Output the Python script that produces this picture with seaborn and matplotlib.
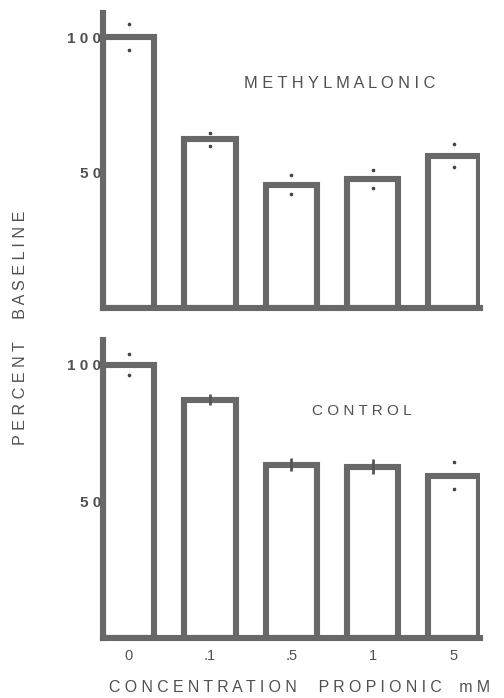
import matplotlib
matplotlib.use("Agg")
import matplotlib.pyplot as plt
import seaborn as sns
import pandas as pd

# ---- data ----
concentrations = ["0", ".1", ".5", "1", "5"]
methyl_values = [100, 62.3, 45.5, 47.8, 56.3]
methyl_errors = [4.8, 2.4, 3.5, 3.3, 4.2]
control_values = [100, 87.2, 63.4, 62.6, 59.3]
control_errors = [4.0, 2.0, 2.4, 2.7, 5.0]
control_err_style = ["dot", "line", "line", "line", "dot"]
methyl_err_style = ["dot", "dot", "dot", "dot", "dot"]
y_ticks = [50, 100]
y_tick_labels = ["5 0", "1 0 0"]
panel_titles = ["M E T H Y L M A L O N I C", "C O N T R O L"]
y_label = "P E R C E N T     B A S E L I N E"
x_label = "C O N C E N T R A T I O N     P R O P I O N I C    m M"

sns.set_theme(style="white")
plt.rcParams["font.family"] = ["Liberation Sans", "DejaVu Sans"]

GRAY = "#686868"
TEXT = "#505050"
LW = 4.4

fig = plt.figure(figsize=(5.04, 6.98), dpi=100)
ax_top = fig.add_axes([0.204, 0.5587, 0.748, 0.4226])
ax_bot = fig.add_axes([0.204, 0.086, 0.748, 0.427])


def draw_panel(ax, values, errors, styles, title, title_xy, title_size, show_x):
    df = pd.DataFrame({"conc": concentrations, "val": values})
    sns.barplot(data=df, x="conc", y="val", ax=ax, color="white",
                edgecolor=GRAY, linewidth=LW, width=0.63, saturation=1,
                errorbar=None)
    for patch in ax.patches:
        patch.set_facecolor("white")
        patch.set_edgecolor(GRAY)
        patch.set_zorder(2)
    for i, (v, e, s) in enumerate(zip(values, errors, styles)):
        if s == "dot":
            ax.scatter([i, i], [v - e, v + e], s=7, color="#444444",
                       zorder=4, linewidths=0)
        else:
            ax.plot([i, i], [v - e, v + e], color="#555555", lw=2.0,
                    zorder=4, solid_capstyle="butt")
    ax.set_xlim(-0.32, 4.32)
    ax.set_ylim(0, 109)
    ax.set_yticks(y_ticks)
    ax.set_yticklabels(y_tick_labels, color=TEXT,
                       fontsize=11, fontweight="bold")
    ax.tick_params(axis="y", length=0, pad=1)
    ax.tick_params(axis="x", length=0, pad=8)
    if show_x:
        ax.set_xticks(range(len(concentrations)))
        ax.set_xticklabels(concentrations, color=TEXT, fontsize=10.5)
    else:
        ax.set_xticks([])
    ax.set_xlabel("")
    ax.set_ylabel("")
    for side in ["top", "right"]:
        ax.spines[side].set_visible(False)
    for side in ["left", "bottom"]:
        ax.spines[side].set_color(GRAY)
        ax.spines[side].set_linewidth(LW)
        ax.spines[side].set_zorder(3)
    ax.spines["bottom"].set_capstyle("projecting")
    ax.text(title_xy[0], title_xy[1], title, color=TEXT, fontsize=title_size,
            ha="center", va="center", transform=ax.transData)
    ax.set_facecolor("white")


draw_panel(ax_top, methyl_values, methyl_errors, methyl_err_style,
           panel_titles[0], (2.6, 83), 11.8, False)
draw_panel(ax_bot, control_values, control_errors, control_err_style,
           panel_titles[1], (2.87, 83), 11, True)

fig.text(0.04, 0.531, y_label, rotation=90, ha="center", va="center",
         color=TEXT, fontsize=11.6)
fig.text(0.595, 0.015, x_label, ha="center", va="center", color=TEXT,
         fontsize=11.4)

fig.savefig("out.png", dpi=100, facecolor="white")
